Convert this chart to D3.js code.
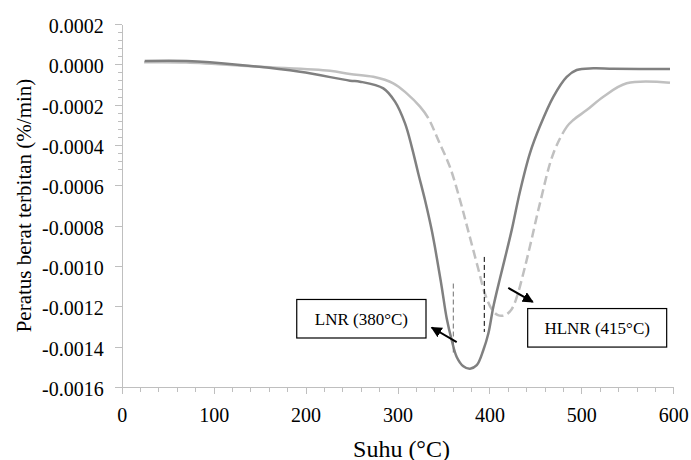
<!DOCTYPE html>
<html>
<head>
<meta charset="utf-8">
<script src="https://cdn.jsdelivr.net/npm/d3@7"></script>
<style>
    html, body { margin: 0; padding: 0; background: #fff; }
    .axis path, .axis line { stroke: #bfbfbf; stroke-width: 1; shape-rendering: crispEdges; }
</style>
</head>
<body>
<div id="chart"></div>
<script>
/* data: temperature (°C) and derivative weight loss (%/min) */
var LNR_T   = [25, 70.7, 128.7, 194, 248.3, 259.2, 284.6, 297.3, 308.2, 315.5, 322.6, 329.9, 337.2, 342.6, 348.1, 353.5, 359, 364.4, 371.6, 378.9, 386.2, 393.3, 398.8, 404.2, 411.5, 416.9, 424.2, 433.3, 444.1, 455, 469.5, 484.1, 494.9, 513, 534.8, 596.4];
var LNR_V   = [0.000016, 0.000016, -0.000003, -0.000037, -0.000081, -0.000086, -0.000119, -0.000185, -0.000293, -0.000409, -0.000541, -0.000673, -0.000822, -0.000955, -0.001104, -0.001259, -0.001368, -0.001451, -0.001497, -0.001509, -0.001492, -0.001418, -0.001335, -0.001203, -0.001061, -0.000961, -0.000822, -0.000629, -0.00044, -0.000306, -0.000161, -0.000062, -0.000028, -0.00002, -0.000022, -0.000023];

var HLNR_T  = [24.3, 69.9, 150.4, 226.5, 248.3, 273.7, 295.4, 310, 324.5, 333.5, 344.4, 357.1, 368, 376.7, 387.6, 395.2, 402.5, 409.3, 416.9, 424.2, 429.7, 436.9, 444.1, 455, 469.5, 484.1, 491.2, 505.8, 523.9, 549.3, 596.4];
var HLNR_V  = [0.00001, 0.000009, -0.000012, -0.000032, -0.000048, -0.000062, -0.000094, -0.000144, -0.00021, -0.000267, -0.000376, -0.00051, -0.000673, -0.000822, -0.00101, -0.001139, -0.001214, -0.001244, -0.001244, -0.001214, -0.001155, -0.001036, -0.000902, -0.000688, -0.000442, -0.00031, -0.000276, -0.000227, -0.000161, -0.000094, -0.000091];
var HLNR_DASH = [333.5, 484.1];   // part of the HLNR curve drawn dashed

/* ticks */
var X_TICKS = [0, 100, 200, 300, 400, 500, 600];
var Y_TICKS = [0.0002, 0, -0.0002, -0.0004, -0.0006, -0.0008, -0.0010, -0.0012, -0.0014, -0.0016];
var X_MINOR = 20;
var Y_MINOR = 0.00004;

/* labels */
var X_TITLE = "Suhu (°C)";
var Y_TITLE = "Peratus berat terbitan (%/min)";
var NOTE_LABELS = ["LNR (380°C)", "HLNR (415°C)"];
/* annotation boxes [t0, t1, v0, v1], arrows [t0, v0, t1, v1], marker lines [t, v0, v1] in data units */
var NOTE_BOXES  = [[190.4, 331.0, -0.001166, -0.001357], [441.6, 592.8, -0.001211, -0.001402]];
var NOTE_ARROWS = [[364.4, -0.001377, 337.2, -0.001305], [420.5, -0.001109, 447.1, -0.001178]];
var PEAK_LINES  = [[360.7, -0.001087, -0.001434], [394.4, -0.000955, -0.001327]];
var PEAK_COLORS = ["#707070", "#000"];

(function () {

    var FONT = "'Liberation Serif', 'Times New Roman', Times, serif";
    var W = 691, H = 460;
    var M = { left: 121.7, right: 691 - 673.3, top: 24, bottom: 460 - 387 };

    var svg = d3.select("#chart").append("svg")
        .attr("width", W).attr("height", H)
        .attr("font-family", FONT);

    var x = d3.scaleLinear().domain([0, 600]).range([M.left, W - M.right]);
    var y = d3.scaleLinear().domain([0.0002, -0.0016]).range([M.top, H - M.bottom]);

    var fmtY = d3.formatLocale({ decimal: ".", thousands: ",", grouping: [3], currency: ["", ""], minus: "-" }).format(".4f");

    /* minor ticks */
    var xMinor = d3.range(0, 600 + 1e-9, X_MINOR);
    var yMinor = d3.range(0, 19).map(function (i) { return 0.0002 - i * Y_MINOR; });

    svg.append("g").attr("class", "axis")
        .attr("transform", "translate(0," + y.range()[1] + ")")
        .call(d3.axisBottom(x).tickValues(xMinor).tickSize(5).tickSizeOuter(0).tickFormat(""));
    svg.append("g").attr("class", "axis")
        .attr("transform", "translate(" + x.range()[0] + ",0)")
        .call(d3.axisLeft(y).tickValues(yMinor).tickSize(4).tickSizeOuter(0).tickFormat(""));

    /* major ticks */
    var gx = svg.append("g").attr("class", "axis")
        .attr("transform", "translate(0," + y.range()[1] + ")")
        .call(d3.axisBottom(x).tickValues(X_TICKS).tickSize(7).tickSizeOuter(0).tickPadding(14));
    gx.attr("font-family", FONT).attr("font-size", 20);
    gx.selectAll("text").attr("fill", "#000").attr("dy", "0.71em");

    var gy = svg.append("g").attr("class", "axis")
        .attr("transform", "translate(" + x.range()[0] + ",0)")
        .call(d3.axisLeft(y).tickValues(Y_TICKS).tickSize(7).tickSizeOuter(0).tickPadding(11).tickFormat(fmtY));
    gy.attr("font-family", FONT).attr("font-size", 20);
    gy.selectAll("text").attr("fill", "#000").attr("dy", "0.42em");

    /* axis titles */
    svg.append("text")
        .attr("x", (x.range()[0] + x.range()[1]) / 2 + 4)
        .attr("y", 456.5)
        .attr("text-anchor", "middle")
        .attr("font-size", 24)
        .text(X_TITLE);

    svg.append("text")
        .attr("transform", "translate(31," + (y.range()[0] + y.range()[1]) / 2 + ") rotate(-90)")
        .attr("text-anchor", "middle")
        .attr("font-size", 21)
        .text(Y_TITLE);

    /* curves */
    var line = d3.line()
        .x(function (d) { return x(d[0]); })
        .y(function (d) { return y(d[1]); })
        .curve(d3.curveCatmullRom.alpha(0.5));

    var lnr  = d3.zip(LNR_T, LNR_V);
    var hlnr = d3.zip(HLNR_T, HLNR_V);

    /* measure the HLNR path so the dashed stretch starts and ends at HLNR_DASH */
    var full = svg.append("path").datum(hlnr).attr("d", line).attr("fill", "none");
    var node = full.node();
    var total = node.getTotalLength();

    function lengthAt(px) {
        var lo = 0, hi = total;
        for (var k = 0; k < 40; k++) {
            var mid = (lo + hi) / 2;
            if (node.getPointAtLength(mid).x < px) lo = mid; else hi = mid;
        }
        return lo;
    }
    var L0 = lengthAt(x(HLNR_DASH[0]));
    var L1 = lengthAt(x(HLNR_DASH[1]));
    full.remove();

    /* solid to L0, dashed to L1, solid to the end */
    var pattern = [L0];
    var pos = L0, on = false, dash = 9, gap = 4.5;
    while (pos < L1) {
        var seg = on ? Math.min(dash, L1 - pos) : Math.min(gap, L1 - pos);
        pattern.push(seg);
        pos += seg;
        on = !on;
    }
    if (!on) pattern.push(0);          // next must be a dash
    pattern.push(total - L1 + 10, total);

    svg.append("path").datum(hlnr)
        .attr("d", line)
        .attr("fill", "none")
        .attr("stroke", "#c0c0c0")
        .attr("stroke-width", 2.5)
        .attr("stroke-dasharray", pattern.join(","));

    svg.append("path").datum(lnr)
        .attr("d", line)
        .attr("fill", "none")
        .attr("stroke", "#808080")
        .attr("stroke-width", 2.5);

    /* peak marker lines */
    PEAK_LINES.forEach(function (p, i) {
        svg.append("line")
            .attr("x1", x(p[0])).attr("x2", x(p[0]))
            .attr("y1", y(p[1])).attr("y2", y(p[2]))
            .attr("stroke", PEAK_COLORS[i])
            .attr("stroke-width", 1)
            .attr("stroke-dasharray", "5,3");
    });

    /* arrows */
    svg.append("defs").append("marker")
        .attr("id", "head")
        .attr("viewBox", "0 0 10 10")
        .attr("refX", 9).attr("refY", 5)
        .attr("markerWidth", 5.5).attr("markerHeight", 5.5)
        .attr("orient", "auto")
        .append("path")
        .attr("d", "M0,0 L10,5 L0,10 Z")
        .attr("fill", "#000");

    NOTE_ARROWS.forEach(function (a) {
        svg.append("line")
            .attr("x1", x(a[0])).attr("y1", y(a[1]))
            .attr("x2", x(a[2])).attr("y2", y(a[3]))
            .attr("stroke", "#000")
            .attr("stroke-width", 2)
            .attr("marker-end", "url(#head)");
    });

    /* annotation boxes */
    NOTE_BOXES.forEach(function (b, i) {
        var x0 = x(b[0]), x1 = x(b[1]), y0 = y(b[2]), y1 = y(b[3]);
        svg.append("rect")
            .attr("x", x0).attr("y", y0)
            .attr("width", x1 - x0).attr("height", y1 - y0)
            .attr("fill", "#fff")
            .attr("stroke", "#000")
            .attr("stroke-width", 1.2);
        svg.append("text")
            .attr("x", (x0 + x1) / 2)
            .attr("y", (y0 + y1) / 2)
            .attr("dy", "0.35em")
            .attr("text-anchor", "middle")
            .attr("font-size", 17)
            .text(NOTE_LABELS[i]);
    });

}());
</script>
</body>
</html>
